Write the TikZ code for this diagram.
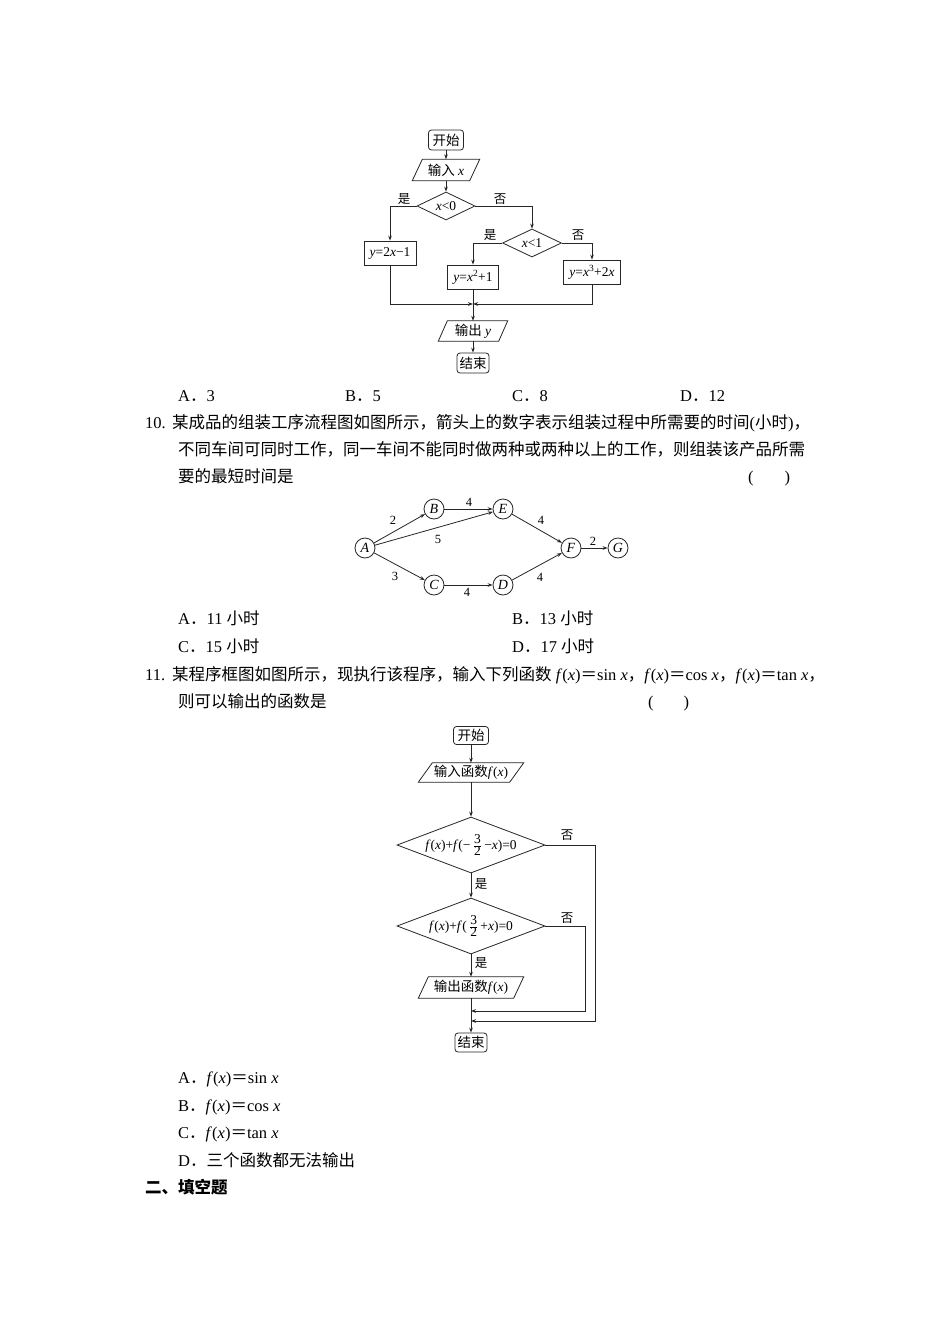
\documentclass[tikz,border=0pt]{standalone}
\usepackage{fontspec}
\setmainfont{Liberation Serif}
\newfontfamily\cjk{Noto Sans CJK SC}
\usetikzlibrary{shapes.geometric,arrows.meta}
\newcommand\zh[1]{{\cjk #1}}
\newcommand\iv[1]{\textit{#1}}
\newcommand\fr[2]{$\frac{\hbox{#1}}{\hbox{#2}}$}
\newcommand\bodysize{\fontsize{16.5}{20}\selectfont}
\newcommand\fcsize{\fontsize{13.5}{15}\selectfont}
\newcommand\pgram[6]{%
  \node[fc, minimum width=#3-#5, minimum height=#4] (#1) at (#2) {#6};
  \draw[ln] ([xshift=#5/2]#1.north west) -- ([xshift=#5/2]#1.north east)
    -- ([xshift=-#5/2]#1.south east) -- ([xshift=-#5/2]#1.south west) -- cycle;}
\begin{document}
\begin{tikzpicture}[x=1pt,y=-1pt,
  ln/.style={line width=0.8pt, draw=black!85},
  arr/.style={ln, -{Stealth[length=5pt,width=3.6pt]}},
  txt/.style={anchor=base west, inner sep=0pt, font=\bodysize},
  fc/.style={font=\fcsize, inner sep=0pt},
  lab/.style={font=\fontsize{12.5}{14}\selectfont, inner sep=0pt},
  term/.style={fc, ln, rounded corners=3pt, minimum width=35, minimum height=20},
  proc/.style={fc, ln, minimum height=24},
  dia/.style={ln, diamond, inner sep=0pt},
  circ/.style={ln, circle, minimum size=20, inner sep=0pt, font=\fontsize{14}{15}\selectfont}]
\useasboundingbox[fill=white] (0,0) rectangle (950,1344);

% ---------- flowchart 1 ----------
\node[term] (s1) at (446,140) {\zh{开始}};
\pgram{in1}{446,170}{67}{21}{10}{\zh{输入} \iv{x}}
\node[dia, minimum width=58, minimum height=28] (d1) at (446,206) {};
\node[fc] (d1t) at (d1) {\iv{x}<0};
\node[proc, minimum width=52] (b1) at (390,253) {\iv{y}=2\iv{x}−1};
\node[dia, minimum width=59, minimum height=28] (d2) at (532,243) {};
\node[fc] (d2t) at (d2) {\iv{x}<1};
\node[proc, minimum width=51] (b2) at (473,277) {\iv{y}=\iv{x}\textsuperscript{2}+1};
\node[proc, minimum width=57] (b3) at (592,272) {\iv{y}=\iv{x}\textsuperscript{3}+2\iv{x}};
\coordinate (m1) at (473,304);
\pgram{o1}{473,331}{69}{20}{9}{\zh{输出} \iv{y}}
\node[term, minimum width=32] (e1) at (473,363) {\zh{结束}};
\node[lab] (l1) at (404,199) {\zh{是}};
\node[lab] (l2) at (500,199) {\zh{否}};
\node[lab] (l3) at (490,235) {\zh{是}};
\node[lab] (l4) at (578,235) {\zh{否}};
\draw[arr] (s1) -- (in1);
\draw[arr] (in1) -- (d1);
\draw[arr] (d1.west) -| (b1.north);
\draw[arr] (d1.east) -| (d2.north);
\draw[arr] (d2.west) -| (b2.north);
\draw[arr] (d2.east) -| (b3.north);
\draw[arr] (b1.south) |- (m1);
\draw[arr] (b3.south) |- (m1);
\draw[arr] (b2.south) -- (o1.north);
\draw[arr] (o1) -- (e1);

% ---------- question 9 options ----------
\node[txt] (q9a) at (178,401) {A\zh{．}3};
\node[txt] (q9b) at (345,401) {B\zh{．}5};
\node[txt] (q9c) at (512,401) {C\zh{．}8};
\node[txt] (q9d) at (680,401) {D\zh{．}12};

% ---------- question 10 ----------
\node[txt] (n10) at (145,428) {10.};
\node[txt] (q10a1) at (172,428) {\zh{某成品的组装工序流程图如图所示，箭头上的数字表示组装过程中所需要的时间}(\zh{小时})\zh{，}};
\node[txt] (q10a2) at (178,455) {\zh{不同车间可同时工作，同一车间不能同时做两种或两种以上的工作，则组装该产品所需}};
\node[txt] (q10a3) at (178,482) {\zh{要的最短时间是}};
\node[txt] (q10p) at (748,482) {(\hspace{31pt})};

\node[circ] (A) at (365,548) {\iv{A}};
\node[circ] (B) at (434,509) {\iv{B}};
\node[circ] (E) at (503,509) {\iv{E}};
\node[circ] (C) at (434,585) {\iv{C}};
\node[circ] (D) at (503,585) {\iv{D}};
\node[circ] (F) at (571,548) {\iv{F}};
\node[circ] (G) at (618,548) {\iv{G}};
\draw[arr] (A) -- (B);
\draw[arr] (B) -- (E);
\draw[arr] (A) -- (E);
\draw[arr] (E) -- (F);
\draw[arr] (A) -- (C);
\draw[arr] (C) -- (D);
\draw[arr] (D) -- (F);
\draw[arr] (F) -- (G);
\node[lab] (w1) at (393,520) {2};
\node[lab] (w2) at (469,502) {4};
\node[lab] (w3) at (438,539) {5};
\node[lab] (w4) at (541,520) {4};
\node[lab] (w5) at (593,541) {2};
\node[lab] (w6) at (395,576) {3};
\node[lab] (w7) at (467,592) {4};
\node[lab] (w8) at (540,577) {4};

\node[txt] (q10oa) at (178,624) {A\zh{．}11 \zh{小时}};
\node[txt] (q10ob) at (512,624) {B\zh{．}13 \zh{小时}};
\node[txt] (q10oc) at (178,652) {C\zh{．}15 \zh{小时}};
\node[txt] (q10od) at (512,652) {D\zh{．}17 \zh{小时}};

% ---------- question 11 ----------
\node[txt] (n11) at (145,680) {11.};
\node[txt] (q11a1) at (172,680) {\zh{某程序框图如图所示，现执行该程序，输入下列函数} \iv{f}(\iv{x})\zh{＝}sin \iv{x}\zh{，}\iv{f}(\iv{x})\zh{＝}cos \iv{x}\zh{，}\iv{f}(\iv{x})\zh{＝}tan \iv{x}\zh{，}};
\node[txt] (q11a2) at (178,707) {\zh{则可以输出的函数是}};
\node[txt] (q11p) at (648,707) {(\hspace{30pt})};

\node[term, minimum width=35, minimum height=18] (s2) at (471,735.5) {\zh{开始}};
\pgram{in2}{471,772.5}{105}{19}{14}{\zh{输入函数}\iv{f}(\iv{x})}
\node[dia, minimum width=148, minimum height=56] (d3) at (471,845) {};
\node[fc] (d3t) at (d3) {\iv{f}(\iv{x})+\iv{f}(−\,\fr{3}{2}\,−\iv{x})=0};
\node[dia, minimum width=148, minimum height=56] (d4) at (471,926) {};
\node[fc] (d4t) at (d4) {\iv{f}(\iv{x})+\iv{f}(\,\fr{3}{2}\,+\iv{x})=0};
\pgram{out2}{471,987.5}{105}{21}{10}{\zh{输出函数}\iv{f}(\iv{x})}
\node[term, minimum width=32, minimum height=19] (e2) at (471,1042.5) {\zh{结束}};
\coordinate (c1) at (585,1011);
\coordinate (j1) at (471,1011);
\coordinate (c2) at (595,1021);
\coordinate (j2) at (471,1021);
\node[lab] (l5) at (567,835) {\zh{否}};
\node[lab] (l6) at (481,884) {\zh{是}};
\node[lab] (l7) at (567,918) {\zh{否}};
\node[lab] (l8) at (481,963) {\zh{是}};
\draw[arr] (s2) -- (in2);
\draw[arr] (in2) -- (d3);
\draw[arr] (d3) -- (d4);
\draw[arr] (d4) -- (out2);
\draw[arr] (out2) -- (e2);
\draw[arr] (d4.east) -| (c1) -- (j1);
\draw[arr] (d3.east) -| (c2) -- (j2);

\node[txt] (q11oa) at (178,1083) {A\zh{．}\iv{f}(\iv{x})\zh{＝}sin \iv{x}};
\node[txt] (q11ob) at (178,1111) {B\zh{．}\iv{f}(\iv{x})\zh{＝}cos \iv{x}};
\node[txt] (q11oc) at (178,1138) {C\zh{．}\iv{f}(\iv{x})\zh{＝}tan \iv{x}};
\node[txt] (q11od) at (178,1166) {D\zh{．}\zh{三个函数都无法输出}};
\node[txt] (sec2) at (145,1193) {\zh{\bfseries 二、填空题}};
\end{tikzpicture}
\end{document}
